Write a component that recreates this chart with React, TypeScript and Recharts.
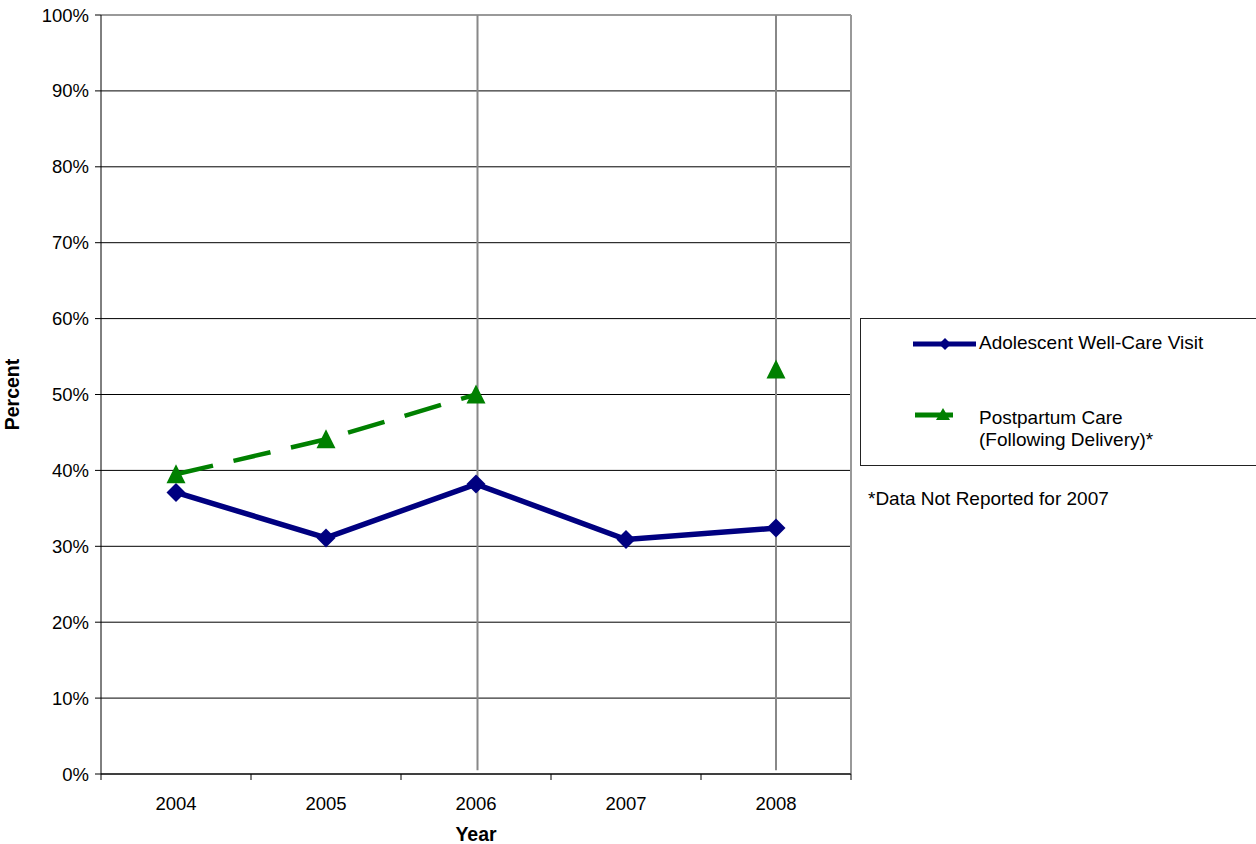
import React from "react";
import {
  LineChart,
  Line,
  XAxis,
  YAxis,
  CartesianGrid,
  ReferenceLine,
  Legend,
} from "recharts";

const years = [2004, 2005, 2006, 2007, 2008];
const adolescent = [37.1, 31.1, 38.2, 30.9, 32.4];
const postpartum: (number | null)[] = [39.5, 44.1, 50.0, null, 53.3];
const yTicks = [0, 10, 20, 30, 40, 50, 60, 70, 80, 90, 100];
const seriesNames = ["Adolescent Well-Care Visit", "Postpartum Care (Following Delivery)*"];
const footnote = "*Data Not Reported for 2007";

const data = years.map((y, i) => ({
  year: y,
  adolescent: adolescent[i],
  postpartum: postpartum[i],
}));

const FONT = "'Liberation Sans', Arial, sans-serif";
const NAVY = "#000080";
const GREEN = "#008000";

const Diamond = (props: any) => {
  const { cx, cy } = props;
  if (cx == null || cy == null) return null;
  const r = 9.5;
  return (
    <path
      d={`M${cx},${cy - r}L${cx + r},${cy}L${cx},${cy + r}L${cx - r},${cy}Z`}
      fill={NAVY}
    />
  );
};

const Triangle = (props: any) => {
  const { cx, cy, value } = props;
  if (cx == null || cy == null || value == null) return null;
  const w = 9.5;
  return (
    <path
      d={`M${cx},${cy - 10}L${cx + w},${cy + 9}L${cx - w},${cy + 9}Z`}
      fill={GREEN}
    />
  );
};

const XTick = (props: any) => {
  const { x, y, payload, index } = props;
  const half = 75;
  return (
    <g>
      <line x1={x - half} y1={y - 8} x2={x - half} y2={y - 2} stroke="#000" strokeWidth={1} />
      {index === years.length - 1 && (
        <line x1={x + half} y1={y - 8} x2={x + half} y2={y - 2} stroke="#000" strokeWidth={1} />
      )}
      <text
        x={x}
        y={y + 28}
        textAnchor="middle"
        fontSize={18.5}
        fontFamily={FONT}
        fill="#000"
      >
        {payload.value}
      </text>
    </g>
  );
};

const renderLegend = () => (
  <div style={{ position: "relative", fontFamily: FONT, fontSize: 19, color: "#000" }}>
    <div
      style={{
        position: "absolute",
        left: 0,
        top: 0,
        width: 420,
        height: 148,
        border: "1px solid #222",
        boxSizing: "border-box",
      }}
    >
      <svg width={120} height={146} style={{ position: "absolute", left: 0, top: 0 }}>
        <line x1={52} y1={25} x2={115} y2={25} stroke={NAVY} strokeWidth={5} />
        <path d="M84,19L90,25L84,31L78,25Z" fill={NAVY} />
        <line x1={54} y1={96} x2={92} y2={96} stroke={GREEN} strokeWidth={5} />
        <path d="M82,89L89,101L75,101Z" fill={GREEN} />
      </svg>
      <div style={{ position: "absolute", left: 118, top: 13, whiteSpace: "nowrap", lineHeight: "22px" }}>
        {seriesNames[0]}
      </div>
      <div style={{ position: "absolute", left: 118, top: 88, lineHeight: "22px", whiteSpace: "nowrap" }}>
        Postpartum Care
        <br />
        (Following Delivery)*
      </div>
    </div>
    <div style={{ position: "absolute", left: 8, top: 170, whiteSpace: "nowrap", lineHeight: "22px" }}>
      {footnote}
    </div>
  </div>
);

export default function App() {
  return (
    <div style={{ position: "absolute", left: 0, top: 0, width: 1256, height: 844, background: "#fff", overflow: "hidden" }}>
      <LineChart
        width={1256}
        height={844}
        data={data}
        margin={{ top: 15, right: 405, bottom: 0, left: 0 }}
      >
        <CartesianGrid vertical={false} stroke="#000" strokeWidth={1} />
        <XAxis
          dataKey="year"
          type="number"
          domain={[2003.5, 2008.5]}
          ticks={years}
          tickLine={false}
          axisLine={{ stroke: "#000", strokeWidth: 1 }}
          tick={<XTick />}
          height={70}
          interval={0}
          label={{
            value: "Year",
            position: "insideBottom",
            offset: 3,
            style: { fontFamily: FONT, fontSize: 19.5, fontWeight: "bold", fill: "#000" },
          }}
        />
        <YAxis
          type="number"
          domain={[0, 100]}
          ticks={yTicks}
          tickFormatter={(v: number) => `${v}%`}
          width={101}
          tickSize={6}
          tickMargin={6}
          tick={{ fontFamily: FONT, fontSize: 18.5, fill: "#000" }}
          tickLine={{ stroke: "#000" }}
          axisLine={{ stroke: "#000", strokeWidth: 1 }}
          interval={0}
          label={{
            value: "Percent",
            angle: -90,
            position: "insideLeft",
            offset: 12,
            style: { fontFamily: FONT, fontSize: 19.5, fontWeight: "bold", fill: "#000", textAnchor: "middle" },
          }}
        />
        <ReferenceLine y={100} stroke="#999" strokeWidth={2} />
        <ReferenceLine x={2008.5} stroke="#999" strokeWidth={2} />
        <ReferenceLine
          segment={[{ x: 2006.01, y: 0.5 }, { x: 2006.01, y: 100 }]}
          stroke="#888"
          strokeWidth={2}
        />
        <ReferenceLine
          segment={[{ x: 2008, y: 0.5 }, { x: 2008, y: 100 }]}
          stroke="#888"
          strokeWidth={2}
        />
        <Legend
          content={renderLegend}
          wrapperStyle={{ position: "absolute", left: 860, top: 318, width: 420, height: 0, overflow: "visible" }}
        />
        <Line
          dataKey="adolescent"
          name={seriesNames[0]}
          stroke={NAVY}
          strokeWidth={5.5}
          dot={<Diamond />}
          activeDot={false}
          isAnimationActive={false}
        />
        <Line
          dataKey="postpartum"
          name={seriesNames[1]}
          stroke={GREEN}
          strokeWidth={4.5}
          strokeDasharray="38 21"
          dot={<Triangle />}
          activeDot={false}
          connectNulls={false}
          isAnimationActive={false}
        />
      </LineChart>
    </div>
  );
}
